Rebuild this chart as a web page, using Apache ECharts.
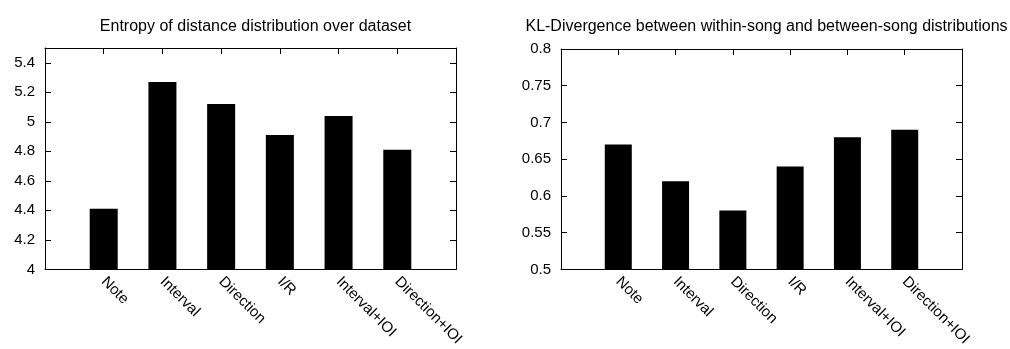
<!DOCTYPE html>
<html>
<head>
<meta charset="utf-8">
<script src="https://cdn.jsdelivr.net/npm/echarts@6/dist/echarts.min.js"></script>
<style>
html,body{margin:0;padding:0;background:#fff;}
#chart{width:1010px;height:349px;}
</style>
</head>
<body>
<div id="chart"></div>
<script>
const categories = ['Note', 'Interval', 'Direction', 'I/R', 'Interval+IOI', 'Direction+IOI'];
const entropyValues = [4.41, 5.27, 5.12, 4.91, 5.04, 4.81];
const klValues = [0.67, 0.62, 0.58, 0.64, 0.68, 0.69];
const titles = ['Entropy of distance distribution over dataset', 'KL-Divergence between within-song and between-song distributions'];
const entropyTicks = { min: 4, max: 5.5, interval: 0.2, showMax: false };
const klTicks = { min: 0.5, max: 0.8, interval: 0.05, showMax: true };

const FONT = 'Liberation Sans, Arial, sans-serif';
const chart = echarts.init(document.getElementById('chart'), null, { renderer: 'canvas' });

const grids = [
  { left: 45, top: 48, width: 411, height: 224 },
  { left: 561, top: 49, width: 401, height: 223 }
];
const lineStyle = { color: '#000', width: 1 };

function xAxes(gi) {
  return [
    {
      type: 'value', gridIndex: gi, position: 'bottom', min: -1, max: categories.length, interval: 1,
      axisLine: { show: true, onZero: false, lineStyle },
      axisTick: { show: false },
      splitLine: { show: false },
      axisLabel: {
        rotate: -45, margin: 10, color: '#000', fontFamily: FONT, fontSize: 15,
        showMinLabel: true, showMaxLabel: true,
        formatter: v => (v >= 0 && v < categories.length) ? categories[v] : ''
      }
    },
    {
      type: 'value', gridIndex: gi, position: 'top', min: -1, max: categories.length, interval: 1,
      axisLine: { show: true, onZero: false, lineStyle },
      axisTick: { show: true, inside: true, length: 6, lineStyle },
      splitLine: { show: false },
      axisLabel: { show: false }
    }
  ];
}
function yAxes(gi, t) {
  return [
    {
      type: 'value', gridIndex: gi, position: 'left', min: t.min, max: t.max, interval: t.interval,
      axisLine: { show: true, onZero: false, lineStyle },
      axisTick: { show: true, inside: true, length: 6, lineStyle },
      splitLine: { show: false },
      axisLabel: { color: '#000', fontFamily: FONT, fontSize: 15, margin: 10, showMaxLabel: t.showMax,
        formatter: v => String(parseFloat(v.toFixed(2))) }
    },
    {
      type: 'value', gridIndex: gi, position: 'right', min: t.min, max: t.max, interval: t.interval,
      axisLine: { show: true, onZero: false, lineStyle },
      axisTick: { show: true, inside: true, length: 6, lineStyle },
      splitLine: { show: false },
      axisLabel: { show: false }
    }
  ];
}

const option = {
  animation: false,
  backgroundColor: '#fff',
  title: [
    { text: titles[0], left: 250.5, top: 14, textAlign: 'center',
      textStyle: { fontFamily: FONT, fontSize: 16, fontWeight: 'normal', color: '#000' } },
    { text: titles[1], left: 761.5, top: 14, textAlign: 'center',
      textStyle: { fontFamily: FONT, fontSize: 16, fontWeight: 'normal', color: '#000' } }
  ],
  grid: grids,
  xAxis: [...xAxes(0), ...xAxes(1)],
  yAxis: [...yAxes(0, entropyTicks), ...yAxes(1, klTicks)],
  series: [
    { type: 'bar', xAxisIndex: 0, yAxisIndex: 0, barWidth: 28,
      data: entropyValues.map((v, i) => [i, v]),
      itemStyle: { color: '#000' } },
    { type: 'bar', xAxisIndex: 2, yAxisIndex: 2, barWidth: 27,
      data: klValues.map((v, i) => [i, v]),
      itemStyle: { color: '#000' } }
  ]
};
chart.setOption(option);
</script>
</body>
</html>
